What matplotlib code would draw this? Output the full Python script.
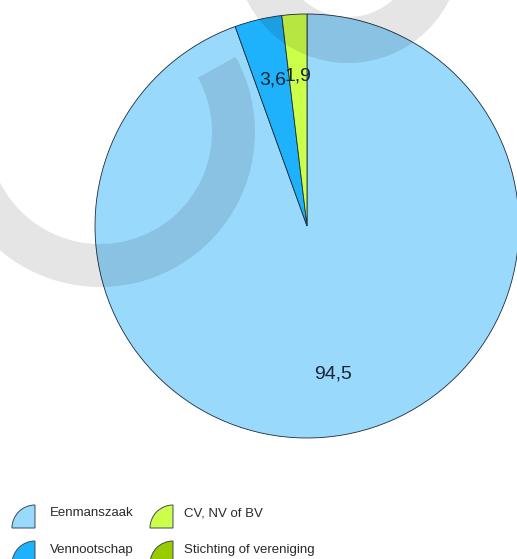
import matplotlib.pyplot as plt
from matplotlib.patches import Wedge

plt.rcParams['font.family'] = ['Liberation Sans', 'DejaVu Sans']

# Data
categories = ["Eenmanszaak", "Vennootschap", "CV, NV of BV", "Stichting of vereniging"]
values = [94.5, 3.6, 1.9, 0.0]
colors = ["#99d9fc", "#1fb2fc", "#ccff4a", "#99cc00"]

W, H = 517, 559
fig = plt.figure(figsize=(W / 100, H / 100), dpi=100)

# Pie: centre (307, 226) px, radius 212 px
cx, cy, r = 307, 226, 212
ax = fig.add_axes([(cx - r) / W, (H - cy - r) / H, 2 * r / W, 2 * r / H])
shown = [i for i, v in enumerate(values) if v > 0]
ax.pie([values[i] for i in shown], colors=[colors[i] for i in shown],
       startangle=90, counterclock=False, radius=1,
       autopct=lambda p: "{:.1f}".format(p).replace(".", ","), pctdistance=0.71,
       wedgeprops=dict(edgecolor="#1c2b3c", linewidth=0.6),
       textprops=dict(fontsize=14, color="#1a2533"))
ax.set_xlim(-1, 1)
ax.set_ylim(-1, 1)
ax.set_aspect("equal")
ax.axis("off")

# Overlay in pixel coordinates (y down) for legend and watermark
ov = fig.add_axes([0, 0, 1, 1], zorder=5)
ov.set_xlim(0, W)
ov.set_ylim(H, 0)
ov.axis("off")

# watermark arcs
ov.add_patch(Wedge((100, 132), 155, -29, 180, width=43, facecolor="black", alpha=0.1, linewidth=0))
ov.add_patch(Wedge((348, -50), 113, 0, 360, width=46, facecolor="black", alpha=0.1, linewidth=0))

# legend
icon_x = [35, 173]
text_x = [50, 184]
row_y = [528, 564]
for i, (lab, col) in enumerate(zip(categories, colors)):
    x0 = icon_x[i // 2]
    y0 = row_y[i % 2]
    ov.add_patch(Wedge((x0, y0), 23, 180, 270, facecolor=col, edgecolor="#3a4a5a", linewidth=0.7))
    ov.text(text_x[i // 2], y0 - 14.5, lab, fontsize=9.5, color="#2a2a2a", va="center", ha="left")

fig.savefig("out.png", dpi=100)
